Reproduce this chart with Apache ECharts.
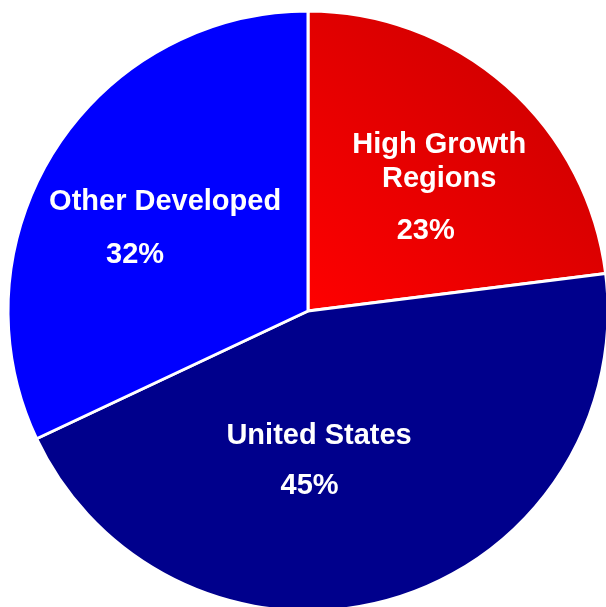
<!DOCTYPE html>
<html>
<head>
<meta charset="utf-8">
<style>
  html, body { margin: 0; padding: 0; background: #ffffff; }
  #chart { width: 606px; height: 607px; }
</style>
<script src="https://cdn.jsdelivr.net/npm/echarts@6/dist/echarts.min.js"></script>
</head>
<body>
<div id="chart"></div>
<script>
// Regional split, clockwise from 12 o'clock
const regions = ['High Growth\nRegions', 'United States', 'Other Developed'];
const shares = [23, 45, 32];

// Slice fills
const fills = [
  new echarts.graphic.LinearGradient(0, 1, 1, 0, [
    { offset: 0, color: '#ff0000' },
    { offset: 1, color: '#c40000' }
  ]),
  '#00008c',
  '#0000ff'
];

// Per-slice label tweaks: gap before the percentage line, its left shift, and label nudges
const pctLineHeight = [70, 65, 72];
const pctShift = [27, 19, 60];
const nudge = [[30, 1], [-31.6, 11], [-13.7, 9]];

const chart = echarts.init(document.getElementById('chart'), null, { renderer: 'canvas' });

const font = 'Arial, "Liberation Sans", sans-serif';
const rich = {};
const data = regions.map((name, i) => {
  rich['n' + i] = { fontSize: 29, fontWeight: 'bold', color: '#ffffff', lineHeight: 34, fontFamily: font, align: 'center' };
  rich['p' + i] = { fontSize: 29, fontWeight: 'bold', color: '#ffffff', lineHeight: pctLineHeight[i], fontFamily: font, align: 'center', padding: [0, pctShift[i], 0, 0] };
  return { name: name, value: shares[i], itemStyle: { color: fills[i] } };
});

chart.setOption({
  animation: false,
  backgroundColor: '#ffffff',
  series: [{
    type: 'pie',
    center: [308, 311],
    radius: 300,
    startAngle: 90,
    clockwise: true,
    silent: true,
    data: data,
    itemStyle: { borderColor: '#ffffff', borderWidth: 3 },
    label: {
      show: true,
      position: 'inner',
      formatter: (p) => {
        const i = p.dataIndex;
        return p.name.split('\n').map(l => '{n' + i + '|' + l + '}').join('\n') +
          '\n{p' + i + '|' + p.value + '%}';
      },
      rich: rich
    },
    labelLine: { show: false },
    labelLayout: (params) => ({ dx: nudge[params.dataIndex][0], dy: nudge[params.dataIndex][1] })
  }]
});
</script>
</body>
</html>
